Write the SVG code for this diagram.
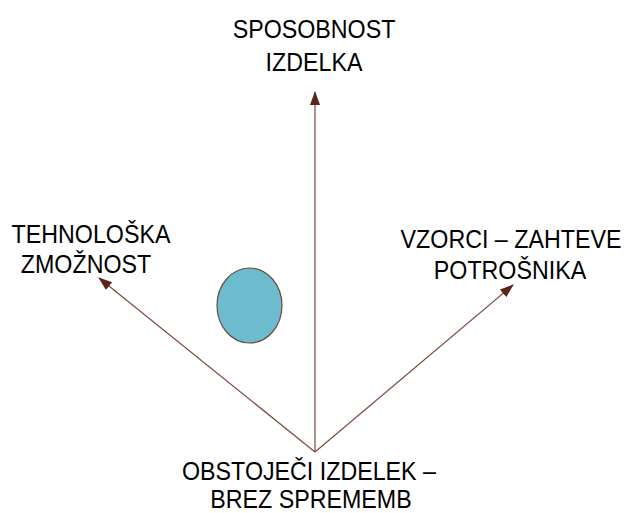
<svg xmlns="http://www.w3.org/2000/svg" width="625" height="513" viewBox="0 0 625 513">
  <style>
    .label { font-family: "Liberation Sans", Arial, sans-serif; font-size: 25px; fill: #000; text-anchor: middle; }
    .link { stroke: #7a4a3e; stroke-width: 1.2; fill: none; marker-end: url(#head); }
  </style>
  <defs>
    <marker id="head" viewBox="0 0 14 10" refX="13" refY="5" markerWidth="14" markerHeight="10" markerUnits="userSpaceOnUse" orient="auto">
      <path d="M0,0 L14,5 L0,10 Z" fill="#5a2418"/>
    </marker>
  </defs>
  <rect width="625" height="513" fill="#ffffff"/>

  <g id="connectors">
    <line class="link" x1="315" y1="452" x2="315" y2="92"/>
    <line class="link" x1="315" y1="452" x2="99" y2="278"/>
    <line class="link" x1="315" y1="452" x2="513" y2="285"/>
  </g>

  <g id="circle">
    <ellipse cx="249.5" cy="305.5" rx="32.5" ry="37.5" fill="#6bbccd" stroke="#6a4a44" stroke-width="1.2"/>
  </g>

  <!-- labels are slightly condensed horizontally -->
  <g id="sposobnost">
    <text class="label" transform="translate(314,38) scale(0.93,1)">SPOSOBNOST</text>
    <text class="label" transform="translate(314,71) scale(0.93,1)">IZDELKA</text>
  </g>

  <g id="tehnoloska">
    <text class="label" transform="translate(91,243) scale(0.93,1)">TEHNOLOŠKA</text>
    <text class="label" transform="translate(86,273) scale(0.93,1)">ZMOŽNOST</text>
  </g>

  <g id="vzorci">
    <text class="label" transform="translate(511,248) scale(0.93,1)">VZORCI – ZAHTEVE</text>
    <text class="label" transform="translate(510,279) scale(0.93,1)">POTROŠNIKA</text>
  </g>

  <g id="obstojeci">
    <text class="label" transform="translate(309,480) scale(0.93,1)">OBSTOJEČI IZDELEK –</text>
    <text class="label" transform="translate(311,508) scale(0.93,1)">BREZ SPREMEMB</text>
  </g>
</svg>
